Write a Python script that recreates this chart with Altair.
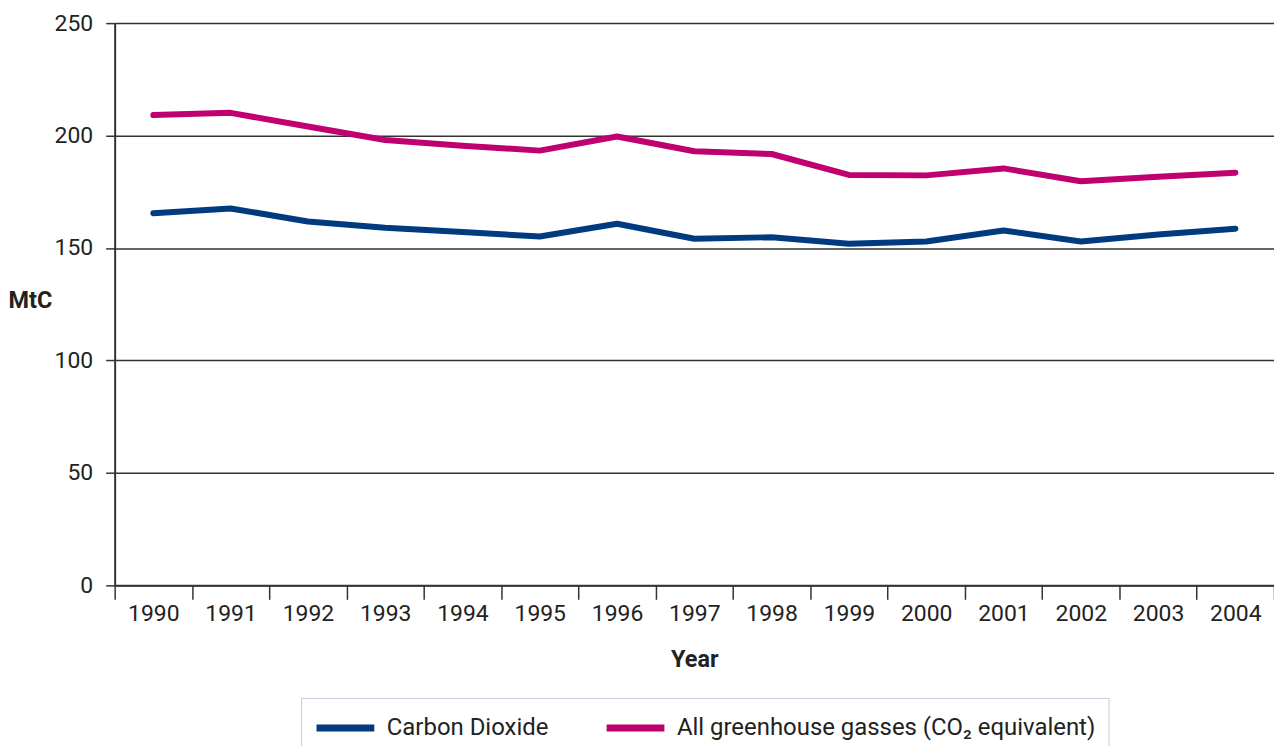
import altair as alt
import pandas as pd

years = [str(y) for y in range(1990, 2005)]
co2 = [165.5, 167.6, 161.8, 159.0, 157.1, 155.1, 160.8, 154.1, 154.8, 151.9, 152.9, 157.8, 152.9, 156.0, 158.6]
ghg = [209.1, 210.1, 204.0, 198.0, 195.5, 193.3, 199.6, 193.0, 191.8, 182.5, 182.3, 185.4, 179.7, 181.7, 183.5]
series = ["Carbon Dioxide", "All greenhouse gasses (CO\u2082 equivalent)"]
colors = ["#003b80", "#c0006e"]
y_ticks = [0, 50, 100, 150, 200, 250]

rows = []
for name, vals in zip(series, [co2, ghg]):
    for yr, v in zip(years, vals):
        rows.append({"year": yr, "value": v, "series": name})
df = pd.DataFrame(rows)

FONT = "Roboto, sans-serif"

chart = alt.Chart(df).mark_line(strokeWidth=6, strokeCap="round", strokeJoin="round").encode(
    x=alt.X("year:O", bandPosition=0.5,
            scale=alt.Scale(type="band", paddingInner=0, paddingOuter=0),
            axis=alt.Axis(title="Year", labelAngle=0, tickBand="extent", grid=False,
                          tickSize=14, labelPadding=3, titleY=74, titleBaseline="middle")),
    y=alt.Y("value:Q", scale=alt.Scale(domain=[0, 250], nice=False),
            axis=alt.Axis(title="MtC", values=y_ticks, grid=True, tickSize=9, labelPadding=13,
                          titleAngle=0, titleX=-85, titleY=278, titleAlign="center",
                          titleBaseline="middle")),
    color=alt.Color("series:N", sort=series,
                    scale=alt.Scale(domain=series, range=colors),
                    legend=alt.Legend(title=None, orient="none", legendX=187, legendY=677,
                                      direction="horizontal", symbolType="M-1,0L3,0",
                                      symbolSize=841, symbolStrokeWidth=7, labelOffset=38,
                                      columnPadding=43, padding=12, labelLimit=800,
                                      strokeColor="#c5cae0", fillColor="white")),
).properties(
    width=1163, height=564,
    autosize="none",
    padding={"left": 107, "top": 14, "right": 0, "bottom": 160},
).configure_axis(
    labelFont=FONT, labelFontSize=23, labelColor="#222222",
    titleFont=FONT, titleFontSize=23.5, titleFontWeight="bold", titleColor="#222222",
    domainColor="#333333", domainWidth=2, tickColor="#333333", tickWidth=1.5,
    gridColor="#333333", gridWidth=1.5, gridOpacity=1,
).configure_legend(
    labelFont=FONT, labelFontSize=24, labelColor="#222222",
).configure_view(stroke=None)

chart.save("out.html", embed_options={"renderer": "svg", "actions": False})
